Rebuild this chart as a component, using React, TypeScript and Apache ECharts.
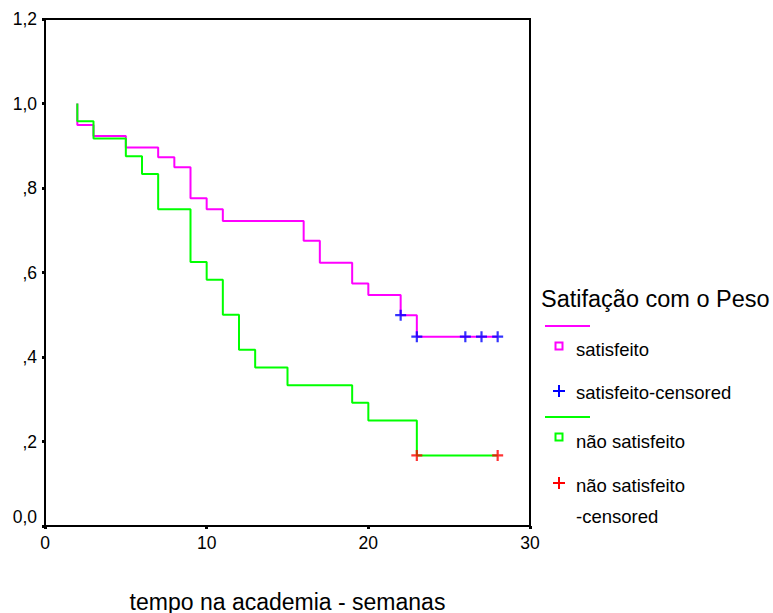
import React, { useEffect, useRef } from "react";
import * as echarts from "echarts";

// Kaplan-Meier steps: time of event, survival after event
const satTimes = [2, 2, 3, 5, 7, 8, 9, 10, 11, 16, 17, 19, 20, 22, 23, 28];
const satSurv = [1.0, 0.949, 0.923, 0.896, 0.873, 0.849, 0.776, 0.75, 0.722, 0.675, 0.623, 0.574, 0.547, 0.499, 0.448, 0.448];
const satCensTimes = [22, 23, 26, 27, 28];
const satCensSurv = [0.499, 0.448, 0.448, 0.448, 0.448];

const naoTimes = [2, 2, 3, 5, 6, 7, 9, 10, 11, 12, 13, 15, 19, 20, 23, 28];
const naoSurv = [1.0, 0.958, 0.917, 0.875, 0.833, 0.75, 0.625, 0.583, 0.5, 0.417, 0.375, 0.333, 0.292, 0.25, 0.167, 0.167];
const naoCensTimes = [23, 28];
const naoCensSurv = [0.167, 0.167];

const yTickLabels: Record<string, string> = {
  "0": "0,0", "0.2": ",2", "0.4": ",4", "0.6": ",6", "0.8": ",8", "1": "1,0", "1.2": "1,2",
};

const legendTitle = "Satifação com o Peso";
const legendItems = ["satisfeito", "satisfeito-censored", "não satisfeito", "não satisfeito", "-censored"];
const xTitle = "tempo na academia - semanas";

const FONT = "'Liberation Sans', Arial, sans-serif";
const PLUS = "path://M4,0H6V4H10V6H6V10H4V6H0V4H4Z";

const zip = (a: number[], b: number[]) => a.map((v, i) => [v, b[i]]);

export default function App() {
  const ref = useRef<HTMLDivElement>(null);
  useEffect(() => {
    if (!ref.current) return;
    const chart = echarts.init(ref.current, null, { renderer: "svg" });
    const plus = (x: number, y: number, color: string) => ({
      type: "group",
      children: [
        { type: "line", shape: { x1: x - 6, y1: y, x2: x + 6, y2: y }, style: { stroke: color, lineWidth: 2 } },
        { type: "line", shape: { x1: x, y1: y - 6, x2: x, y2: y + 6 }, style: { stroke: color, lineWidth: 2 } },
      ],
    });
    const sq = (x: number, y: number, color: string) => ({
      type: "rect",
      shape: { x: x - 3.5, y: y - 3.5, width: 7, height: 7 },
      style: { fill: "none", stroke: color, lineWidth: 2 },
    });
    const txt = (x: number, y: number, t: string, size: number) => ({
      type: "text",
      x, y,
      style: { text: t, fill: "#000", font: `${size}px ${FONT}`, verticalAlign: "middle", align: "left" },
    });
    chart.setOption({
      animation: false,
      backgroundColor: "#fff",
      grid: {
        left: 45, top: 19, right: 243, bottom: 87,
        outerBoundsMode: "none",
        containLabel: false,
        show: true, borderColor: "#000", borderWidth: 2, backgroundColor: "transparent",
      },
      xAxis: {
        type: "value", min: 0, max: 30, interval: 10,
        axisLine: { show: true, onZero: false, lineStyle: { color: "#000", width: 2 } },
        axisTick: { show: true, length: 3, lineStyle: { color: "#000", width: 3 } },
        axisLabel: { color: "#000", fontSize: 17.5, fontFamily: FONT, margin: 8 },
        splitLine: { show: false },
        name: xTitle, nameLocation: "middle", nameGap: 64,
        nameTextStyle: { color: "#000", fontSize: 23, fontFamily: FONT },
      },
      yAxis: {
        type: "value", min: 0, max: 1.2, interval: 0.2,
        axisLine: { show: true, lineStyle: { color: "#000", width: 2 } },
        axisTick: { show: true, length: 3, lineStyle: { color: "#000", width: 3 } },
        axisLabel: {
          color: "#000", fontSize: 17.5, fontFamily: FONT, margin: 8,
          formatter: (v: number) => yTickLabels[String(Math.round(v * 10) / 10)] ?? String(v),
          verticalAlignMinLabel: "bottom",
        },
        splitLine: { show: false },
      },
      series: [
        {
          type: "line", step: "end", data: zip(satTimes, satSurv), symbol: "none",
          lineStyle: { color: "#ff00ff", width: 2 },
        },
        {
          type: "line", step: "end", data: zip(naoTimes, naoSurv), symbol: "none",
          lineStyle: { color: "#00ff00", width: 2 },
        },
        {
          type: "scatter", data: zip(satCensTimes, satCensSurv), symbol: PLUS, symbolSize: 11,
          itemStyle: { color: "#0000ff" }, z: 5,
        },
        {
          type: "scatter", data: zip(naoCensTimes, naoCensSurv), symbol: PLUS, symbolSize: 11,
          itemStyle: { color: "#ff0000" }, z: 5,
        },
      ],
      graphic: [
        txt(541, 299, legendTitle, 23.5),
        { type: "line", shape: { x1: 545, y1: 326, x2: 590, y2: 326 }, style: { stroke: "#ff00ff", lineWidth: 2 } },
        sq(559, 346, "#ff00ff"),
        txt(576, 349, legendItems[0], 18.5),
        plus(559, 391, "#0000ff"),
        txt(576, 392, legendItems[1], 18.5),
        { type: "line", shape: { x1: 545, y1: 417, x2: 590, y2: 417 }, style: { stroke: "#00ff00", lineWidth: 2 } },
        sq(559, 437, "#00ff00"),
        txt(576, 441, legendItems[2], 18.5),
        plus(559, 483, "#ff0000"),
        txt(576, 485, legendItems[3], 18.5),
        txt(576, 516, legendItems[4], 18.5),
      ],
    });
    return () => chart.dispose();
  }, []);
  return <div ref={ref} style={{ position: "absolute", left: 0, top: 0, width: 773, height: 613 }} />;
}
